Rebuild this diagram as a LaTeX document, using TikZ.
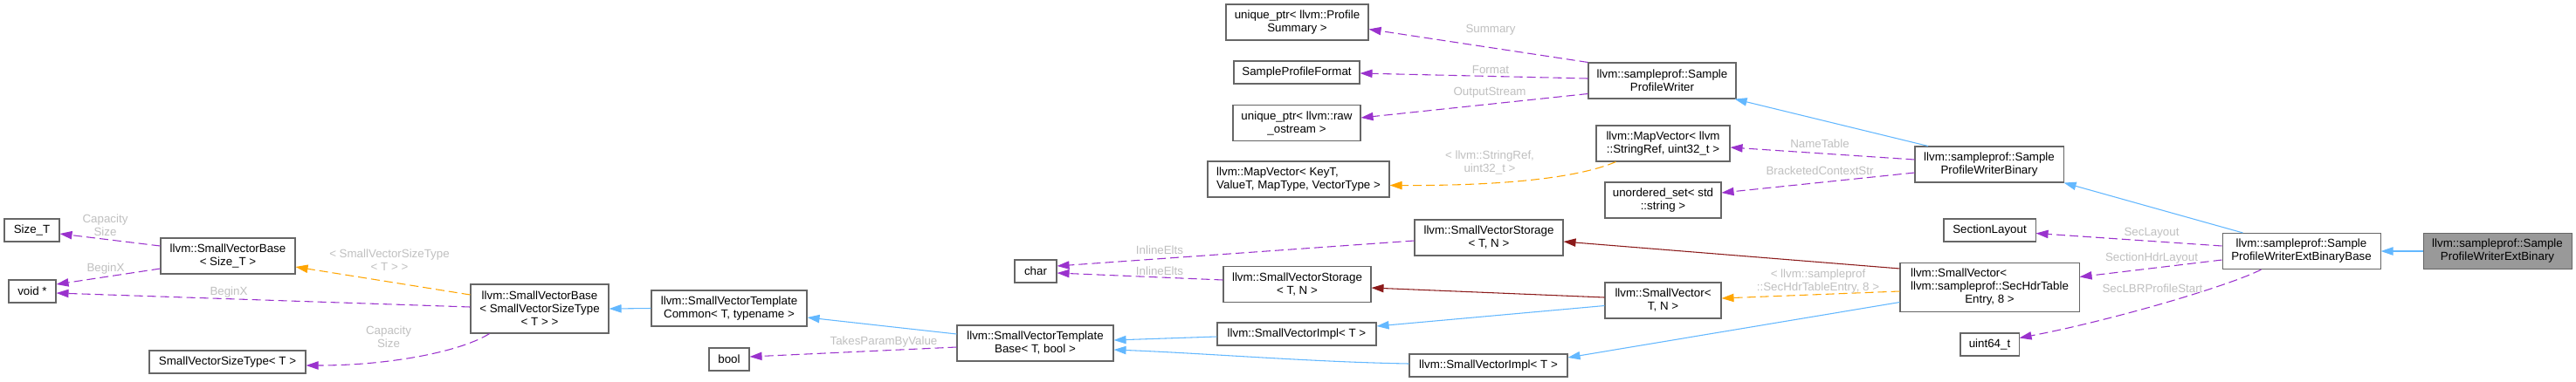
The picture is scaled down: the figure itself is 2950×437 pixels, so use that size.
\documentclass[tikz,border=0pt]{standalone}
\usepackage{fontspec}
\setmainfont{Liberation Sans}
\usepackage{calc}
\usetikzlibrary{arrows.meta,calc}
\definecolor{nodeborder}{HTML}{666666}
\definecolor{rootfill}{HTML}{999999}
\definecolor{inhblue}{HTML}{63B8FF}
\definecolor{mempurple}{HTML}{9A32CD}
\definecolor{tmplorange}{HTML}{FFA500}
\definecolor{protred}{HTML}{8B1A1A}
\definecolor{lblgray}{HTML}{C0C0C0}
\newcommand\nodefont{\fontsize{10}{11.25}\selectfont}
\tikzset{
  box/.style={draw=nodeborder, fill=white, line width=0.8pt, inner sep=0pt, align=center, font=\nodefont},
  rootbox/.style={box, fill=rootfill},
  sz/.style 2 args={minimum width=#1*0.75pt, minimum height=#2*0.75pt},
  tipstyle/.style={-{Triangle[length=10.5pt,width=7pt]}},
  inh/.style={draw=inhblue, line width=0.8pt, tipstyle, fill=none},
  prot/.style={draw=protred, line width=0.8pt, tipstyle},
  mem/.style={draw=mempurple, line width=0.8pt, dash pattern=on 7.5pt off 3.75pt, tipstyle},
  tmpl/.style={draw=tmplorange, line width=0.8pt, dash pattern=on 7.5pt off 3.75pt, tipstyle},
  lbl/.style={font=\nodefont, text=lblgray, align=center, inner sep=0pt},
  >={Triangle[length=10.5pt,width=7pt]}
}
\begin{document}
\begin{tikzpicture}[x=0.75pt, y=-0.75pt]
\useasboundingbox (0,0) rectangle (2950,437);
\fill[white] (0,0) rectangle (2950,437);

% nodes
\node[box, sz={63}{26}] (sizet) at (36.5,264) {Size\_T};
\node[box, sz={54}{26}] (voidp) at (37,334) {void *};
\node[box, sz={154}{41}] (svbsize) at (261,293.5) {llvm::SmallVectorBase\\< Size\_T >};
\node[box, sz={179}{26}] (svst) at (260.5,415) {SmallVectorSizeType< T >};
\node[box, sz={158}{56}] (svbsvst) at (618,354) {llvm::SmallVectorBase\\< SmallVectorSizeType\\< T > >};
\node[box, sz={178}{41}] (svtc) at (835,353.5) {llvm::SmallVectorTemplate\\Common< T, typename >};
\node[box, sz={46}{26}] (bool) at (835,412) {bool};
\node[box, sz={48}{26}] (char) at (1186,311) {char};
\node[box, sz={179}{41}] (svtb) at (1185.5,393.5) {llvm::SmallVectorTemplate\\Base< T, bool >};
\node[box, sz={170}{41}] (svstor1) at (1705,272.5) {llvm::SmallVectorStorage\\< T, N >};
\node[box, sz={169}{41}] (svstor2) at (1485.5,326) {llvm::SmallVectorStorage\\< T, N >};
\node[box, sz={182}{26}] (svimpl1) at (1485,383) {llvm::SmallVectorImpl< T >};
\node[box, sz={181}{26}] (svimpl2) at (1704.5,419) {llvm::SmallVectorImpl< T >};
\node[box, sz={133}{41}] (svtn) at (1904.5,344.5) {llvm::SmallVector<\\T, N >};
\node[box, sz={205}{56}] (svsec) at (2278.5,329.5) {\makebox[\widthof{llvm::sampleprof::SecHdrTable}][l]{llvm::SmallVector<}\\llvm::sampleprof::SecHdrTable\\Entry, 8 >};
\node[box, sz={163}{41}] (uptrps) at (1485.5,25.5) {unique\_ptr< llvm::Profile\\Summary >};
\node[box, sz={144}{26}] (spformat) at (1485,83) {SampleProfileFormat};
\node[box, sz={146}{41}] (uptrraw) at (1485,141) {unique\_ptr< llvm::raw\\\_ostream >};
\node[box, sz={208}{41}] (mapkeyt) at (1487,205.5) {\makebox[\widthof{ValueT, MapType, VectorType >}][l]{llvm::MapVector< KeyT,}\\ValueT, MapType, VectorType >};
\node[box, sz={169}{41}] (spw) at (1903.5,92.5) {llvm::sampleprof::Sample\\ProfileWriter};
\node[box, sz={153}{41}] (mapstr) at (1904.5,164.5) {llvm::MapVector< llvm\\::StringRef, uint32\_t >};
\node[box, sz={133}{41}] (uset) at (1904.5,229.5) {unordered\_set< std\\::string >};
\node[box, sz={170}{41}] (spwbin) at (2278,188.5) {llvm::sampleprof::Sample\\ProfileWriterBinary};
\node[box, sz={105}{26}] (seclayout) at (2278.5,264) {SectionLayout};
\node[box, sz={67}{26}] (uint64) at (2278.5,395) {uint64\_t};
\node[box, sz={181}{41}] (extbase) at (2635.5,288) {llvm::sampleprof::Sample\\ProfileWriterExtBinaryBase};
\node[rootbox, sz={170}{41}] (ext) at (2860,288) {llvm::sampleprof::Sample\\ProfileWriterExtBinary};

% edges
\draw[inh] (ext.west) -- (extbase.east);
\draw[inh] ($(extbase.north)+(-67,0)$) -- (spwbin.south east);
\draw[inh] ($(spwbin.north)+(-70,0)$) -- ($(spw.south east)+(-2,0)$);
\draw[mem] (spw.north west) -- ($(uptrps.east)+(0,8)$);
\draw[mem] ($(spw.west)+(0,-2.5)$) -- ($(spformat.east)+(0,1)$);
\draw[mem] ($(spw.west)+(0,15)$) -- ($(uptrraw.east)+(0,-6)$);
\draw[mem] ($(spwbin.west)+(0,-5.5)$) -- ($(mapstr.east)+(0,4.5)$);
\draw[mem] ($(spwbin.west)+(0,9.5)$) -- ($(uset.east)+(0,-8.5)$);
\draw[tmpl] ($(mapstr.south west)+(23,0)$) .. controls (1800,207) and (1700,213) .. ($(mapkeyt.east)+(0,7)$);
\draw[mem] ($(extbase.west)+(0,-6)$) -- ($(seclayout.east)+(0,3.5)$);
\draw[mem] ($(extbase.west)+(0,10)$) -- ($(svsec.east)+(0,-12)$);
\draw[mem] ($(extbase.south west)+(45,0)$) .. controls (2555,327) and (2420,367) .. ($(uint64.east)+(0,-7.5)$);
\draw[tmpl] ($(svsec.west)+(0,4.5)$) -- ($(svtn.east)+(0,-2.5)$);
\draw[prot] ($(svsec.north west)+(0,7)$) -- ($(svstor1.east)+(0,4.5)$);
\draw[inh] ($(svsec.west)+(0,17)$) -- ($(svimpl2.east)+(0,-9)$);
\draw[prot] ($(svtn.west)+(0,-3.5)$) -- ($(svstor2.east)+(0,4)$);
\draw[inh] ($(svtn.west)+(0,6)$) -- ($(svimpl1.east)+(0,-9)$);
\draw[inh] ($(svimpl1.west)+(0,3)$) -- ($(svtb.east)+(0,-3.5)$);
\draw[inh] ($(svimpl2.west)+(0,-2)$) .. controls (1500,415) and (1380,405) .. ($(svtb.east)+(0,7.5)$);
\draw[mem] ($(svstor1.west)+(0,3.5)$) -- ($(char.east)+(0,-6)$);
\draw[mem] ($(svstor2.west)+(0,-5)$) -- ($(char.east)+(0,2)$);
\draw[inh] ($(svtb.west)+(0,-10.5)$) -- ($(svtc.east)+(0,10.5)$);
\draw[mem] ($(svtb.west)+(0,4.5)$) -- ($(bool.east)+(0,-3)$);
\draw[inh] (svtc.west) -- (svbsvst.east);
\draw[tmpl] ($(svbsvst.west)+(0,-16)$) -- ($(svbsize.east)+(0,12.5)$);
\draw[mem] ($(svbsvst.west)+(0,-2)$) -- ($(voidp.east)+(0,2)$);
\draw[mem] ($(svbsvst.south west)+(22,0)$) .. controls (530,402) and (450,419) .. ($(svst.east)+(0,4)$);
\draw[mem] ($(svbsize.west)+(0,-11.5)$) -- ($(sizet.east)+(0,4)$);
\draw[mem] ($(svbsize.west)+(0,14.5)$) -- ($(voidp.east)+(0,-8)$);

% labels
\node[lbl] (lsum) at (1707,34) {Summary};
\node[lbl] (lfmt) at (1707,80) {Format};
\node[lbl] (lout) at (1706,106) {OutputStream};
\node[lbl] (lname) at (2084,165) {NameTable};
\node[lbl] (lbrack) at (2084,196) {BracketedContextStr};
\node[lbl] (lmapt) at (1706,186.5) {< llvm::StringRef,\\uint32\_t >};
\node[lbl] (lsecl) at (2464,267) {SecLayout};
\node[lbl] (lsech) at (2464,296) {SectionHdrLayout};
\node[lbl] (llbr) at (2465,331) {SecLBRProfileStart};
\node[lbl] (lsvt) at (2082,322.5) {< llvm::sampleprof\\::SecHdrTableEntry, 8 >};
\node[lbl] (linl1) at (1328,287) {InlineElts};
\node[lbl] (linl2) at (1328,311) {InlineElts};
\node[lbl] (ltake) at (1012,392) {TakesParamByValue};
\node[lbl] (lsvb) at (446,298.5) {< SmallVectorSizeType\\< T > >};
\node[lbl] (lbx2) at (262,335) {BeginX};
\node[lbl] (lcap2) at (445,386.5) {Capacity\\Size};
\node[lbl] (lcap1) at (120.5,258) {Capacity\\Size};
\node[lbl] (lbx1) at (121,308) {BeginX};
\end{tikzpicture}
\end{document}
